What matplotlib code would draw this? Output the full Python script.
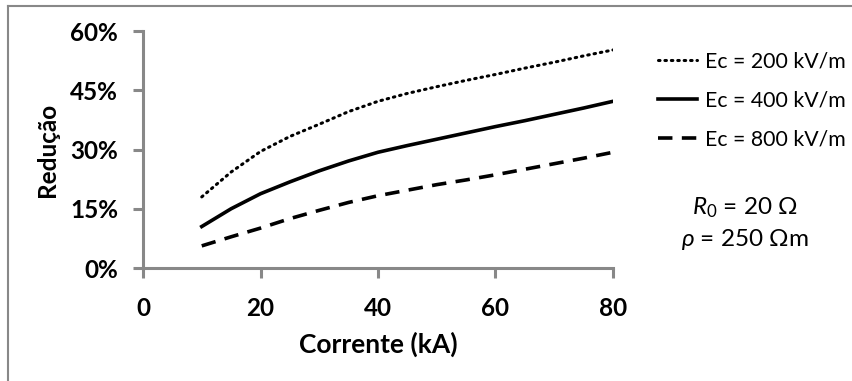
import matplotlib
matplotlib.use("Agg")
import matplotlib.pyplot as plt
from matplotlib.ticker import FuncFormatter
from matplotlib.lines import Line2D

corrente = [10, 15, 20, 25, 30, 35, 40, 45, 50, 55, 60, 65, 70, 75, 80]
ec200 = [18.0, 24.3, 29.5, 33.3, 36.4, 39.6, 42.2, 44.2, 45.9, 47.5, 49.0, 50.6, 52.1, 53.7, 55.2]
ec400 = [10.5, 15.0, 18.8, 21.8, 24.6, 27.1, 29.3, 31.0, 32.6, 34.2, 35.8, 37.3, 38.9, 40.5, 42.2]
ec800 = [5.6, 7.9, 10.1, 12.5, 14.6, 16.6, 18.3, 19.7, 21.1, 22.3, 23.6, 25.0, 26.4, 27.8, 29.3]
labels = ["Ec = 200 kV/m", "Ec = 400 kV/m", "Ec = 800 kV/m"]
xticks = [0, 20, 40, 60, 80]
yticks = [0, 15, 30, 45, 60]

plt.rcParams['font.family'] = ["Lato", "DejaVu Sans"]
plt.rcParams['mathtext.fontset'] = 'custom'
plt.rcParams['mathtext.rm'] = 'Lato'
plt.rcParams['mathtext.it'] = 'Lato:italic'

fig = plt.figure(figsize=(8.53, 3.81), dpi=100)
ax = fig.add_axes([143/853, 1 - 268/381, (613-143)/853, (268-31)/381])

dot = (0, (0.5, 1.6))
dash = (0, (4, 2.6))
ax.plot(corrente, ec200, color="black", lw=2.2, linestyle=dot, dash_capstyle="round")
ax.plot(corrente, ec400, color="black", lw=2.6, linestyle="-")
ax.plot(corrente, ec800, color="black", lw=2.6, linestyle=dash)

ax.set_xlim(0, 80)
ax.set_ylim(0, 60)
ax.set_xticks(xticks)
ax.set_yticks(yticks)
ax.yaxis.set_major_formatter(FuncFormatter(lambda v, p: f"{v:.0f}%"))
for s in ["top", "right"]:
    ax.spines[s].set_visible(False)
for s in ["left", "bottom"]:
    ax.spines[s].set_color("#888888")
    ax.spines[s].set_linewidth(2.2)
ax.tick_params(axis="both", direction="out", length=7, width=2.2, color="#888888",
               labelsize=17.5)
for lab in ax.get_xticklabels() + ax.get_yticklabels():
    lab.set_fontweight("bold")
ax.tick_params(axis="x", pad=14)
ax.tick_params(axis="y", pad=11)
ax.set_xlabel("Corrente (kA)", fontsize=19, fontweight="bold", labelpad=8)
ax.set_ylabel("Redução", fontsize=17.5, fontweight="bold", labelpad=8)

handles = [
    Line2D([], [], color="black", lw=2.2, linestyle=dot, dash_capstyle="round"),
    Line2D([], [], color="black", lw=2.6, linestyle="-"),
    Line2D([], [], color="black", lw=2.6, linestyle=dash),
]
fig.legend(handles, labels, loc="upper left", bbox_to_anchor=(639/853, 1 - 32/381),
           frameon=False, fontsize=15.3, handlelength=1.85, handletextpad=0.35,
           labelspacing=0.9)

fig.text(745/853, 1 - 208/381, r"$R_{\mathit{0}}$ = 20 Ω", ha="center", va="center", fontsize=17.5)
fig.text(745/853, 1 - 240/381, r"$\mathit{\rho}$ = 250 Ωm", ha="center", va="center", fontsize=17.5)

# outer frame (top and left edges visible)
fig.add_artist(Line2D([8/853, 1], [1 - 6/381, 1 - 6/381], transform=fig.transFigure,
                      color="#888888", lw=1.5))
fig.add_artist(Line2D([8/853, 8/853], [0, 1 - 6/381], transform=fig.transFigure,
                      color="#888888", lw=1.5))

fig.savefig("out.png", dpi=100)
